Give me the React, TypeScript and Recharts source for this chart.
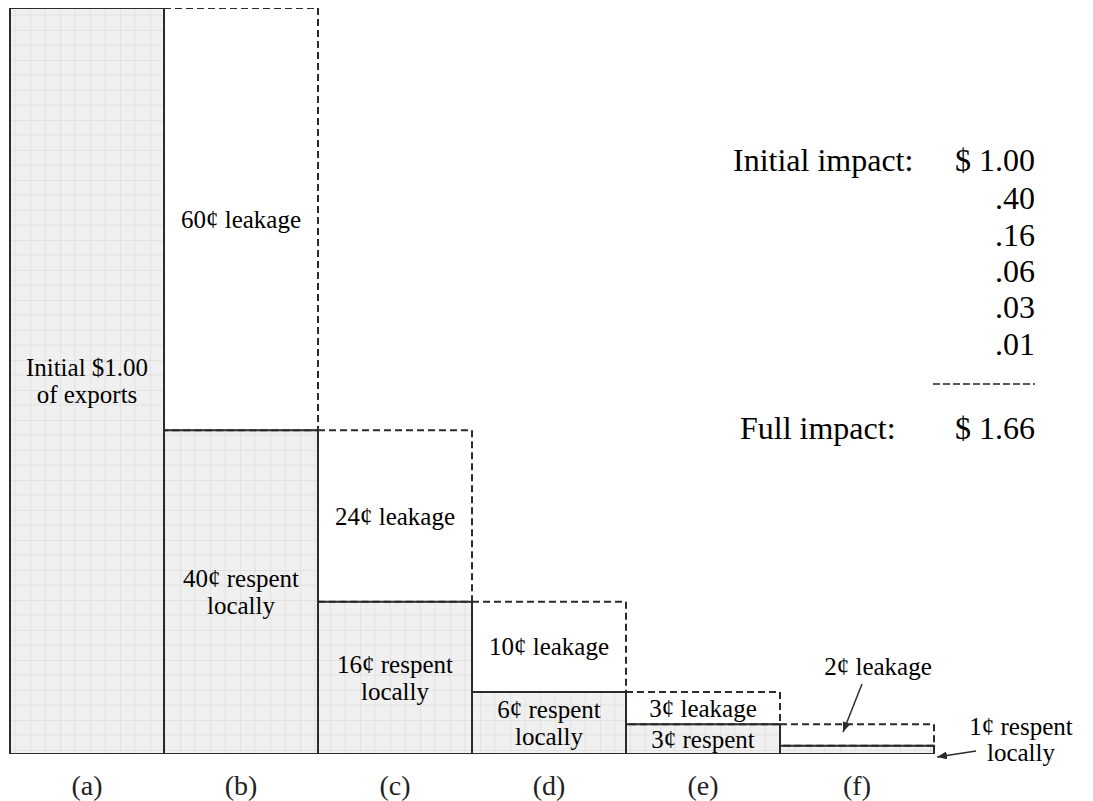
import { Bar, BarChart, Customized, LabelList, XAxis, YAxis } from 'recharts';

// heights as drawn in the figure (not strictly to scale)
const categories = ['(a)', '(b)', '(c)', '(d)', '(e)', '(f)'];
const respent = [1.0, 0.434, 0.204, 0.083, 0.04, 0.011];
const leakage = [0, 0.566, 0.23, 0.121, 0.043, 0.029];

const respentLabels = [
  ['Initial $1.00', 'of exports'],
  ['40¢ respent', 'locally'],
  ['16¢ respent', 'locally'],
  ['6¢ respent', 'locally'],
  ['3¢ respent'],
  ['1¢ respent', 'locally'],
];
const leakageLabels = ['', '60¢ leakage', '24¢ leakage', '10¢ leakage', '3¢ leakage', '2¢ leakage'];

const impactRounds = ['.40', '.16', '.06', '.03', '.01'];
const initialImpact = '$ 1.00';
const fullImpact = '$ 1.66';

const FONT = '"Liberation Serif", "Times New Roman", serif';
const INK = '#2b2b2b';
const TEXT = '#000';

const data = categories.map((name, i) => ({ name, respent: respent[i], leakage: leakage[i] }));

function boxOf(props: any) {
  const vb = props.viewBox ?? props;
  return { x: Number(vb.x), y: Number(vb.y), w: Number(vb.width), h: Number(vb.height) };
}

// zero-height bars get dropped from the label list, so look up by category name
function indexOf(props: any) {
  return categories.indexOf(String(props.value));
}

function RespentLabel(props: any) {
  const { x, y, w, h } = boxOf(props);
  const i = indexOf(props);
  const lines = respentLabels[i];
  if (!lines) return null;
  const cx = x + w / 2;
  const cy = y + h / 2;
  if (i === 5) {
    // label sits outside the bar, with an arrow back to it
    const tx = x + w + 87;
    return (
      <g>
        <line x1={x + w + 42} y1={cy + 1} x2={x + w + 3} y2={cy + 7} stroke={INK} strokeWidth={1.5} markerEnd="url(#arrow)" />
        <text x={tx} y={cy - 23} textAnchor="middle" dominantBaseline="central" fontFamily={FONT} fontSize={25} fill={TEXT}>{lines[0]}</text>
        <text x={tx} y={cy + 3} textAnchor="middle" dominantBaseline="central" fontFamily={FONT} fontSize={25} fill={TEXT}>{lines[1]}</text>
      </g>
    );
  }
  const lh = 27;
  const top = cy - ((lines.length - 1) * lh) / 2;
  return (
    <g>
      {lines.map((t, k) => (
        <text key={k} x={cx} y={top + k * lh} textAnchor="middle" dominantBaseline="central" fontFamily={FONT} fontSize={25} fill={TEXT}>
          {t}
        </text>
      ))}
    </g>
  );
}

function LeakageLabel(props: any) {
  const { x, y, w, h } = boxOf(props);
  const i = indexOf(props);
  const text = leakageLabels[i];
  if (!text) return null;
  const cx = x + w / 2;
  const cy = y + h / 2;
  if (i === 5) {
    return (
      <g>
        <line x1={cx + 5} y1={cy - 51} x2={cx - 14} y2={cy - 3} stroke={INK} strokeWidth={1.5} markerEnd="url(#arrow)" />
        <text x={cx + 21} y={cy - 68} textAnchor="middle" dominantBaseline="central" fontFamily={FONT} fontSize={25} fill={TEXT}>{text}</text>
      </g>
    );
  }
  return (
    <text x={cx} y={cy} textAnchor="middle" dominantBaseline="central" fontFamily={FONT} fontSize={25} fill={TEXT}>
      {text}
    </text>
  );
}

function CategoryTick(props: any) {
  return (
    <text x={props.x} y={props.y + 23} textAnchor="middle" dominantBaseline="central" fontFamily={FONT} fontSize={28} fill="#222">
      {props.payload.value}
    </text>
  );
}

function ImpactTable() {
  const right = 1035;
  const rowY = [198, 235, 271, 307, 344];
  const style = { fontFamily: FONT, fontSize: 32, fill: TEXT };
  return (
    <g>
      <text x={733} y={160} dominantBaseline="central" {...style}>Initial impact:</text>
      <text x={right} y={160} textAnchor="end" dominantBaseline="central" {...style}>{initialImpact}</text>
      {impactRounds.map((v, i) => (
        <text key={v} x={right} y={rowY[i]} textAnchor="end" dominantBaseline="central" {...style}>{v}</text>
      ))}
      <line x1={933} y1={384} x2={right} y2={384} stroke="#222" strokeWidth={1.5} strokeDasharray="7 3" />
      <text x={740} y={428} dominantBaseline="central" {...style}>Full impact:</text>
      <text x={right} y={428} textAnchor="end" dominantBaseline="central" {...style}>{fullImpact}</text>
    </g>
  );
}

export default function App() {
  return (
    <div style={{ position: 'absolute', left: 0, top: 0, width: 1093, height: 801, background: '#fff' }}>
      <svg width={0} height={0} style={{ position: 'absolute' }}>
        <defs>
          <pattern id="grid" width={30} height={30} patternUnits="userSpaceOnUse">
            <rect width={30} height={30} fill="#f0f0f0" />
            <path d="M15 0V30M0 15H30" stroke="#e2e2e2" strokeWidth={1} />
            <path d="M0 0V30M0 0H30" stroke="#d6d6d6" strokeWidth={1} />
          </pattern>
          <marker id="arrow" markerWidth={10} markerHeight={8} refX={10} refY={4} orient="auto" markerUnits="userSpaceOnUse">
            <path d="M0,0 L10,4 L0,8 z" fill={INK} />
          </marker>
        </defs>
      </svg>
      <BarChart
        width={1093}
        height={801}
        data={data}
        margin={{ top: 8, right: 159, bottom: 0, left: 10 }}
        barCategoryGap={0}
        barGap={0}
      >
        <XAxis dataKey="name" height={47} axisLine={false} tickLine={false} tick={<CategoryTick />} interval={0} />
        <YAxis hide domain={[0, 1]} allowDataOverflow />
        <Bar dataKey="respent" stackId="s" fill="url(#grid)" stroke={INK} strokeWidth={2} isAnimationActive={false}>
          <LabelList dataKey="name" content={<RespentLabel />} />
        </Bar>
        <Bar dataKey="leakage" stackId="s" fill="#fff" fillOpacity={0} stroke={INK} strokeWidth={2} strokeDasharray="7 4" isAnimationActive={false}>
          <LabelList dataKey="name" content={<LeakageLabel />} />
        </Bar>
        <Customized component={<ImpactTable />} />
      </BarChart>
    </div>
  );
}
